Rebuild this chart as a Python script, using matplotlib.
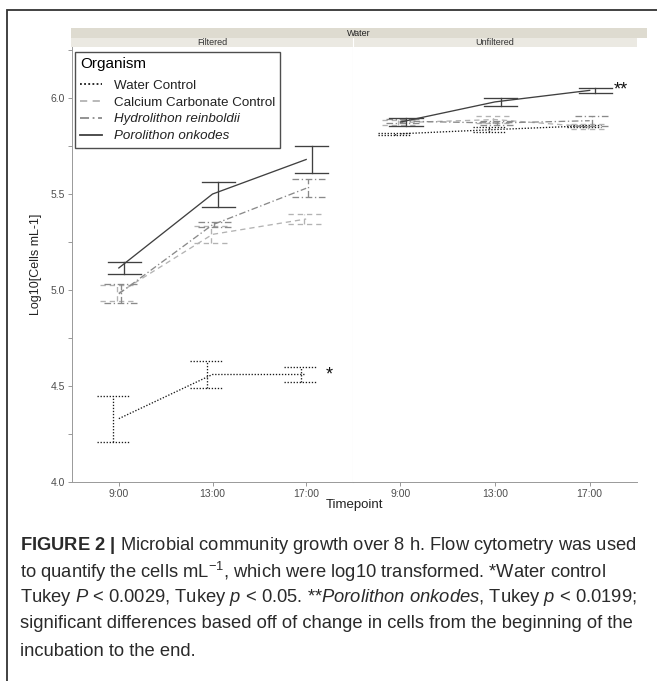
import matplotlib
matplotlib.use("Agg")
import matplotlib.pyplot as plt
from matplotlib.patches import Rectangle
from matplotlib.lines import Line2D
import numpy as np

plt.rcParams['font.family'] = ['Liberation Sans', 'DejaVu Sans']
plt.rcParams['mathtext.fontset'] = 'custom'
plt.rcParams['mathtext.rm'] = 'Liberation Sans'
plt.rcParams['mathtext.it'] = 'Liberation Sans:italic'
plt.rcParams['mathtext.bf'] = 'Liberation Sans:bold'

# ---------------- data ----------------
timepoints = ["9:00", "13:00", "17:00"]
organisms = ["Water Control", "Calcium Carbonate Control",
             "Hydrolithon reinboldii", "Porolithon onkodes"]

filt_water = [4.33, 4.56, 4.56]
filt_water_err = [0.12, 0.07, 0.037]
filt_caco3 = [4.985, 5.29, 5.37]
filt_caco3_err = [0.04, 0.045, 0.028]
filt_hydro = [4.98, 5.34, 5.53]
filt_hydro_err = [0.05, 0.013, 0.047]
filt_poro = [5.115, 5.50, 5.68]
filt_poro_err = [0.033, 0.065, 0.07]

unf_water = [5.814, 5.836, 5.856]
unf_water_err = [0.006, 0.014, 0.006]
unf_caco3 = [5.872, 5.888, 5.85]
unf_caco3_err = [0.012, 0.02, 0.013]
unf_hydro = [5.88, 5.87, 5.882]
unf_hydro_err = [0.01, 0.01, 0.025]
unf_poro = [5.875, 5.98, 6.04]
unf_poro_err = [0.02, 0.02, 0.013]

panels = ["Filtered", "Unfiltered"]

# ---------------- styles ----------------
colors = ['#1a1a1a', '#b3b3b3', '#8a8a8a', '#404040']
styles = [(0, (1, 1.3)), (0, (4, 3)), (0, (5, 2, 1, 2)), '-']
italic = [False, False, True, True]
dodge = [-0.06, -0.02, 0.02, 0.06]
cap = 0.176

W, H = 657, 681
fig = plt.figure(figsize=(W / 100, H / 100), dpi=100)

def fx(px):
    return px / W

def fy(py):
    return 1 - py / H

# outer frame
fig.add_artist(Rectangle((fx(7), fy(H + 5)), fx(W + 5) - fx(7), fy(10) - fy(H + 5),
                         transform=fig.transFigure, fill=False, edgecolor='#333333', lw=1.3))

top, bot = 47, 482
axL_x0, axL_x1 = 72, 353
axR_x0, axR_x1 = 353, 637

axL = fig.add_axes([fx(axL_x0), fy(bot), fx(axL_x1 - axL_x0), fy(top) - fy(bot)])
axR = fig.add_axes([fx(axR_x0), fy(bot), fx(axR_x1 - axR_x0), fy(top) - fy(bot)])

# strips
fig.add_artist(Rectangle((fx(71), fy(38)), fx(647 - 71), fy(28) - fy(38),
                         transform=fig.transFigure, facecolor='#dedbd0', edgecolor='none'))
fig.add_artist(Rectangle((fx(71), fy(47)), fx(353 - 71), fy(38) - fy(47),
                         transform=fig.transFigure, facecolor='#ebe9e2', edgecolor='none'))
fig.add_artist(Rectangle((fx(353), fy(47)), fx(637 - 353), fy(38) - fy(47),
                         transform=fig.transFigure, facecolor='#ebe9e2', edgecolor='none'))
fig.add_artist(Line2D([fx(353), fx(353)], [fy(47), fy(38)], transform=fig.transFigure,
                      color='#ffffff', lw=0.8))
fig.text(fx((71 + 647) / 2), fy(33), "Water", ha='center', va='center', fontsize=6.5, color='#222222')
fig.text(fx((71 + 353) / 2), fy(42.5), panels[0], ha='center', va='center', fontsize=6.5, color='#333333')
fig.text(fx((353 + 637) / 2), fy(42.5), panels[1], ha='center', va='center', fontsize=6.5, color='#333333')

x = np.arange(1, len(timepoints) + 1)

def draw(ax, means, errs):
    for i, (m, e) in enumerate(zip(means, errs)):
        ax.plot(x, m, color=colors[i], linestyle=styles[i], lw=0.95)
        for xi, mi, ei in zip(x, m, e):
            xd = xi + dodge[i]
            ax.plot([xd, xd], [mi - ei, mi + ei], color=colors[i], linestyle=styles[i], lw=0.95)
            for yv in (mi - ei, mi + ei):
                ax.plot([xd - cap, xd + cap], [yv, yv], color=colors[i], linestyle=styles[i], lw=0.95)

draw(axL, [filt_water, filt_caco3, filt_hydro, filt_poro],
     [filt_water_err, filt_caco3_err, filt_hydro_err, filt_poro_err])
draw(axR, [unf_water, unf_caco3, unf_hydro, unf_poro],
     [unf_water_err, unf_caco3_err, unf_hydro_err, unf_poro_err])

axL.text(3.21, filt_water[-1], "*", fontsize=13, ha='left', va='center', color='#111111')
axR.text(3.25, unf_poro[-1], "**", fontsize=13, ha='left', va='center', color='#111111')

ymin, ymax = 4.0, 6.266
for ax in (axL, axR):
    ax.set_xlim(0.5, 3.5)
    ax.set_ylim(ymin, ymax)
    ax.set_xticks(x)
    ax.set_xticklabels(timepoints, fontsize=7.5, color='#4d4d4d')
    ax.tick_params(axis='x', length=3, width=0.6, color='#888888', pad=2)
    for s in ('top', 'right'):
        ax.spines[s].set_visible(False)
    ax.spines['bottom'].set_color('#999999')
    ax.spines['bottom'].set_linewidth(0.7)
    ax.set_facecolor('white')

axL.set_yticks([4.0, 4.5, 5.0, 5.5, 6.0])
axL.set_yticks(np.arange(4.0, 6.26, 0.25), minor=True)
axL.set_yticklabels(["4.0", "4.5", "5.0", "5.5", "6.0"], fontsize=7.5, color='#4d4d4d')
axL.tick_params(axis='y', which='both', length=3, width=0.6, color='#888888', pad=2)
axL.spines['left'].set_color('#999999')
axL.spines['left'].set_linewidth(0.7)
axL.spines['right'].set_visible(True)
axL.spines['right'].set_color('#e3e3e3')
axL.spines['right'].set_linewidth(0.8)
axR.spines['left'].set_visible(False)
axR.set_yticks([])

axL.set_ylabel("Log10[Cells mL-1]", fontsize=9, color='#222222', labelpad=6)
fig.text(fx((72 + 637) / 2), fy(505), "Timepoint", ha='center', va='center', fontsize=9.5, color='#222222')

# legend
handles = [Line2D([0], [0], color=colors[i], linestyle=styles[i], lw=1.3) for i in range(4)]
leg = axL.legend(handles, organisms, title="Organism", loc='upper left',
                 bbox_to_anchor=(fx(75 - 72) / fx(353 - 72), 1 - (52 - 47) / (482 - 47)),
                 frameon=True, fancybox=False, fontsize=9.6, title_fontsize=11,
                 handlelength=1.6, handletextpad=0.9, labelspacing=0.33, borderpad=0.4,
                 alignment='left', borderaxespad=0)
leg._legend_box.sep = 6
leg.get_frame().set_edgecolor('#222222')
leg.get_frame().set_linewidth(1.0)
for t, it in zip(leg.get_texts(), italic):
    t.set_color('#222222')
    if it:
        t.set_fontstyle('italic')

# caption
cap_lines = [
    r"$\mathbf{FIGURE\ 2\ |}$ Microbial community growth over 8 h. Flow cytometry was used",
    r"to quantify the cells mL$^{-1}$, which were log10 transformed. *Water control",
    r"Tukey $\mathit{P}$ < 0.0029, Tukey $\mathit{p}$ < 0.05. **$\mathit{Porolithon\ onkodes}$, Tukey $\mathit{p}$ < 0.0199;",
    r"significant differences based off of change in cells from the beginning of the",
    r"incubation to the end.",
]
cap_y = [546, 572, 598, 624, 651]
for s, yy in zip(cap_lines, cap_y):
    fig.text(fx(20), fy(yy), s, ha='left', va='center', fontsize=13.2, color='#2a2a2a')

fig.savefig("out.png", dpi=100)
